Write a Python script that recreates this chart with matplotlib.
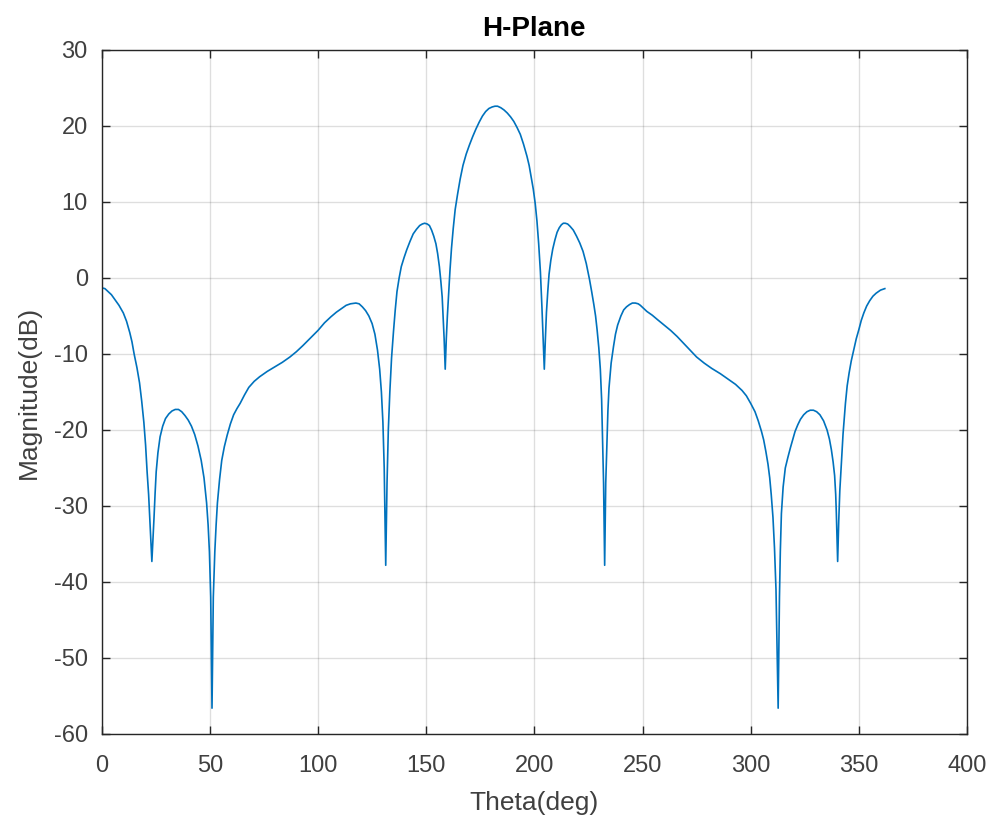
#!/usr/bin/env python3
"""
H-Plane radiation pattern (magnitude in dB vs theta), MATLAB-style look.
"""

import matplotlib
matplotlib.use('Agg')
import matplotlib.pyplot as plt

# Values
theta_deg = [
    0, 1.5, 3, 4.5, 6, 8, 10, 11.5, 13, 14, 15, 16.3, 17.5, 18.5, 19.5, 20.3,
    21, 21.7, 22.2, 22.7, 23.2, 23.7, 24.2, 24.7, 25.2, 26, 27, 28.2, 29.5,
    31, 32.5, 34, 35.5, 37, 38.5, 40, 41.5, 43, 44.5, 46, 47.3, 48.5, 49.2,
    49.8, 50.4, 51.0, 51.6, 52.3, 52.9, 53.5, 54.5, 55.5, 56.7, 58, 59.5, 61,
    62.5, 64, 66, 68, 70.5, 73, 76.5, 80, 83.5, 87, 90, 93, 96.5, 100, 103,
    106, 108.5, 111, 113, 115, 117.5, 119, 120.5, 122, 123.5, 125, 126.3,
    127.5, 128.5, 129.3, 130, 130.6, 131.3, 131.9, 132.5, 133.2, 134, 134.9,
    135.7, 136.5, 137.5, 138.5, 139.8, 141, 142.5, 144, 145.5, 147, 148.2,
    149.3, 150.5, 151.5, 152.5, 153.5, 154.5, 155.3, 156.1, 156.8, 157.4,
    157.8, 158.3, 158.8, 159.3, 159.8, 160.4, 161, 161.7, 162.5, 163.4,
    164.5, 165.7, 167, 168.5, 170, 171.5, 173, 174.5, 176, 177.5, 179, 180.5,
    181.8,
    183, 184.5, 186, 187.5, 189, 190.5, 192, 193.5, 195, 196.6, 197.6, 198.5,
    199.5, 200.4, 201.2, 202, 202.8, 203.5, 204, 204.6, 205.1, 205.6, 206.2,
    206.8, 207.6, 208.5, 209.5, 210.5, 211.5, 212.5, 213.4, 214.3, 215.4,
    216.5, 218, 219.5, 221, 222.5, 224, 225.5, 226.5, 227.5, 228.3, 229,
    229.8, 230.5, 231.1, 231.5, 232, 232.5, 233, 233.5, 234, 234.5, 235.5,
    236.6, 237.5, 238.5, 240, 241.3, 242.6, 244, 245.3, 246.7, 248, 249,
    250.5, 252, 254.5, 257, 260, 263, 266, 269, 272, 275, 278.5, 282, 286,
    290, 293, 296, 298, 300, 302, 303.5, 305, 306, 307, 308, 308.8, 309.5,
    310.3, 311, 311.7, 312.7, 313.3, 313.7, 314.2, 315, 316, 317.2, 318.4,
    319.5, 320.5, 321.8, 323, 324.5, 326, 327.5, 329, 330.5, 332, 333.7,
    335.3, 336.4, 337.3, 338.1, 338.8, 339.3, 339.6, 340.2, 340.7, 341.2,
    341.8, 342.7, 343.8, 344.6, 345.5, 346.5, 347.6, 348.8, 350, 351.1,
    352.3, 353.6, 355, 356.5, 358, 360, 362,
]
magnitude_db = [
    -1.3, -1.4, -1.8, -2.2, -2.8, -3.6, -4.6, -5.7, -7.2, -8.4, -10.0, -11.8,
    -13.8, -16.2, -19.0, -22.0, -25.5, -28.5, -31.5, -34.5, -37.3, -34.5,
    -31.5, -28.3, -25.5, -23.0, -20.9, -19.5, -18.5, -17.9, -17.5, -17.3,
    -17.3, -17.6, -18.1, -18.7, -19.5, -20.6, -22.1, -24.0, -26.3, -29.6,
    -32.5, -36.0, -42.0, -56.6, -42.0, -36.0, -32.5, -29.6, -26.5, -24.0,
    -22.2, -20.7, -19.2, -18.0, -17.2, -16.5, -15.4, -14.4, -13.6, -13.0,
    -12.3, -11.7, -11.1, -10.4, -9.7, -8.9, -7.9, -6.9, -5.9, -5.1, -4.5,
    -4.0, -3.6, -3.4, -3.3, -3.4, -3.8, -4.3, -5.0, -6.0, -7.4, -9.5, -12.0,
    -15.0, -19.0, -25.0, -37.8, -27.0, -20.0, -15.0, -10.5, -7.0, -4.2,
    -1.8, 0.0, 1.5, 2.7, 3.7, 4.8, 5.8, 6.4, 6.9, 7.1, 7.2, 7.1, 6.9, 6.3,
    5.5, 4.5, 3.2, 1.5, -0.5, -2.5, -5.0, -8.0, -12.0, -8.0, -5.0, -2.0,
    1.0, 3.9, 6.5, 9.0, 11.0, 13.0, 14.8, 16.3, 17.5, 18.6, 19.6, 20.5,
    21.3, 21.9, 22.3, 22.5, 22.6,
    22.6, 22.4, 22.1, 21.7, 21.2, 20.6, 19.8, 18.9, 17.6, 16.0, 14.8, 13.3,
    11.7, 9.8, 7.5, 4.5, 0.8, -3.8, -7.5, -12.0, -8.0, -4.5, -1.8, 0.5, 2.3,
    3.8, 5.0, 6.0, 6.6, 7.0, 7.2, 7.2, 7.1, 6.8, 6.3, 5.5, 4.6, 3.5, 1.9,
    -0.2, -1.8, -3.5, -5.0, -6.8, -9.2, -12.0, -16.0, -21.0, -27.0, -37.8,
    -27.0, -22.0, -17.5, -14.5, -11.2, -9.0, -7.4, -6.2, -5.0, -4.2, -3.8,
    -3.5, -3.3, -3.3, -3.4, -3.6, -4.0, -4.4, -4.9, -5.5, -6.2, -6.9, -7.7,
    -8.6, -9.5, -10.4, -11.2, -11.9, -12.6, -13.4, -14.0, -14.8, -15.5,
    -16.5, -17.6, -18.8, -20.2, -21.3, -22.8, -24.5, -26.3, -28.5, -31.5,
    -35.5, -41.0, -56.6, -42.0, -36.0, -31.0, -27.5, -25.0, -23.6, -22.3,
    -21.2, -20.2, -19.3, -18.6, -18.0, -17.6, -17.4, -17.4, -17.6, -18.0,
    -18.8, -20.0, -21.2, -22.6, -24.2, -26.0, -28.5, -31.0, -37.3, -32.0,
    -28.0, -25.0, -20.5, -16.5, -14.2, -12.5, -10.9, -9.5, -8.0, -6.8, -5.6,
    -4.6, -3.7, -3.0, -2.4, -2.0, -1.6, -1.4,
]
x_ticks = [0, 50, 100, 150, 200, 250, 300, 350, 400]
y_ticks = [-60, -50, -40, -30, -20, -10, 0, 10, 20, 30]

dark = '#262626'
plt.rcParams['font.family'] = ['Liberation Sans', 'DejaVu Sans']
plt.rcParams['axes.unicode_minus'] = False
plt.rcParams['xtick.direction'] = 'in'
plt.rcParams['ytick.direction'] = 'in'

fig = plt.figure(figsize=(9.91, 8.19), dpi=100)
ax = fig.add_axes([0.1026, 0.1038, 0.8732, 0.8352])

ax.plot(theta_deg, magnitude_db, color='#0072BD', linewidth=1.2)

ax.set_xlim(0, 400)
ax.set_ylim(-60, 30)
ax.set_xticks(x_ticks)
ax.set_yticks(y_ticks)
ax.tick_params(which='both', top=True, right=True, length=6, width=1.0,
               color=dark, labelcolor='#404040', labelsize=17)
ax.tick_params(axis='x', pad=15)
ax.tick_params(axis='y', pad=10)
for side in ax.spines.values():
    side.set_color(dark)
    side.set_linewidth(1.0)

ax.grid(True, color=dark, alpha=0.15, linewidth=1.0)

ax.set_xlabel('Theta(deg)', fontsize=19, color='#404040', labelpad=10)
ax.set_ylabel('Magnitude(dB)', fontsize=19, color='#404040', labelpad=9)
ax.set_title('H-Plane', fontsize=20, fontweight='bold', color='black', pad=10)

fig.savefig('out.png', dpi=100)
